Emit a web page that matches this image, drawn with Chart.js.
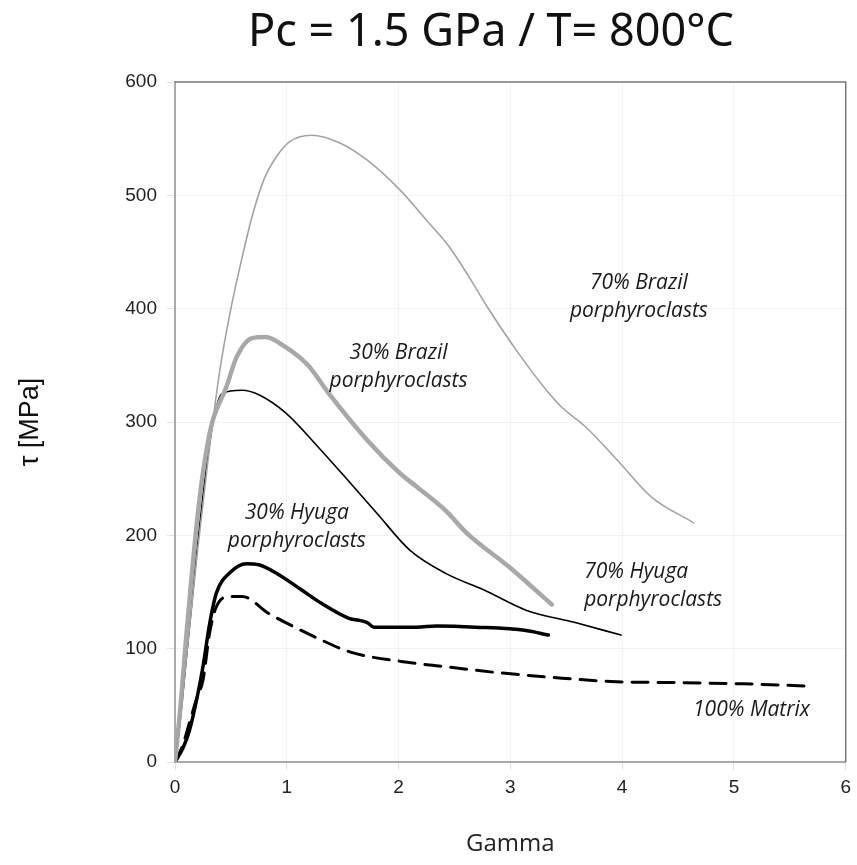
<!DOCTYPE html>
<html>
<head>
<meta charset="utf-8">
<script src="https://cdn.jsdelivr.net/npm/chart.js@4.4.1/dist/chart.umd.min.js"></script>
<style>
  html, body { margin: 0; padding: 0; background: #ffffff; }
  #wrap { width: 857px; height: 865px; }
</style>
</head>
<body>
<div id="wrap"><canvas id="chart" width="857" height="865"></canvas></div>
<script>
'use strict';

// ─── Datos (gamma, tau en MPa) ───────────────────────────────────────────────
const brazil70Gamma = [0, 0.1, 0.2, 0.3, 0.4, 0.5, 0.6, 0.7, 0.8, 0.9, 1.02, 1.22, 1.48, 1.72, 2.01, 2.25, 2.45, 2.63, 2.81, 3.07, 3.34, 3.46, 3.67, 3.96, 4.26, 4.64];
const brazil70Tau   = [0, 90, 185, 270, 345, 400, 445, 485, 515, 533, 547, 553, 546, 531, 505, 478, 455, 428, 399, 361, 326, 313, 296, 266, 234, 211];

const brazil30Gamma = [0, 0.05, 0.1, 0.15, 0.2, 0.25, 0.3, 0.34, 0.46, 0.55, 0.69, 0.81, 0.99, 1.19, 1.37, 1.72, 2.01, 2.16, 2.43, 2.61, 2.99, 3.37];
const brazil30Tau   = [0, 50, 110, 165, 215, 255, 285, 302, 331, 357, 374, 375, 366, 350, 326, 284, 255, 243, 221, 202, 172, 139];

const hyuga70Gamma = [0, 0.05, 0.1, 0.15, 0.2, 0.25, 0.3, 0.35, 0.42, 0.6, 0.75, 0.99, 1.28, 1.57, 1.81, 2.1, 2.43, 2.76, 3.14, 3.58, 3.99];
const hyuga70Tau   = [0, 40, 90, 140, 190, 235, 275, 305, 325, 328, 324, 308, 278, 246, 219, 187, 166, 152, 134, 123, 112];

const hyuga30Gamma = [0, 0.07, 0.13, 0.2, 0.25, 0.31, 0.37, 0.49, 0.64, 0.75, 0.9, 1.13, 1.31, 1.55, 1.72, 1.78, 2.16, 2.34, 2.69, 3.14, 3.34];
const hyuga30Tau   = [0, 12, 28, 58, 84, 122, 149, 167, 175, 174, 167, 152, 140, 127, 123, 119, 119, 120, 119, 116, 112];

const matrixGamma = [0, 0.07, 0.13, 0.2, 0.25, 0.31, 0.37, 0.49, 0.6, 0.84, 0.99, 1.28, 1.57, 2.16, 2.43, 2.87, 3.46, 3.9, 4.49, 5.08, 5.65];
const matrixTau   = [0, 15, 35, 58, 72, 114, 137, 146, 146, 131, 123, 109, 97, 87, 84, 79, 74, 71, 70, 69, 67];

// Ejes
const xTicks = [0, 1, 2, 3, 4, 5, 6];
const yTicks = [0, 100, 200, 300, 400, 500, 600];

// Etiquetas dentro del gráfico (texto y posición en unidades de datos)
const labelTexts = [
    ['70% Brazil', 'porphyroclasts'],
    ['30% Brazil', 'porphyroclasts'],
    ['30% Hyuga', 'porphyroclasts'],
    ['70% Hyuga', 'porphyroclasts'],
    ['100% Matrix'],
];
const labelGamma = [4.15, 2.0, 1.09, 3.66, 5.68];
const labelTau   = [423, 361, 220, 168, 46];
const labelAlign = ['center', 'center', 'center', 'left', 'right'];

const TITLE = 'Pc = 1.5 GPa / T= 800°C';

// ─── Utilidades ──────────────────────────────────────────────────────────────
const toPoints = (xs, ys) => xs.map((x, i) => ({ x, y: ys[i] }));

function serie(label, xs, ys, color, width, dash) {
    return {
        label,
        data: toPoints(xs, ys),
        showLine: true,
        borderColor: color,
        borderWidth: width,
        borderDash: dash || [],
        pointRadius: 0,
        cubicInterpolationMode: 'monotone',
        borderCapStyle: 'round',
        borderJoinStyle: 'round',
    };
}

// Título, borde superior/derecho y etiquetas de las curvas
const decorPlugin = {
    id: 'decor',
    afterDraw(chart) {
        const { ctx, chartArea, scales } = chart;
        ctx.save();

        // marco superior y derecho
        ctx.strokeStyle = '#777777';
        ctx.lineWidth = 1.5;
        ctx.beginPath();
        ctx.moveTo(chartArea.left, chartArea.top);
        ctx.lineTo(chartArea.right, chartArea.top);
        ctx.lineTo(chartArea.right, chartArea.bottom);
        ctx.stroke();

        // título
        ctx.fillStyle = '#111111';
        ctx.font = "45px 'Noto Sans'";
        ctx.textAlign = 'center';
        ctx.textBaseline = 'middle';
        ctx.fillText(TITLE, 491, 33);

        // etiquetas
        ctx.font = "italic 21px 'Open Sans'";
        ctx.fillStyle = '#1a1a1a';
        labelTexts.forEach((lines, i) => {
            const px = scales.x.getPixelForValue(labelGamma[i]);
            const py = scales.y.getPixelForValue(labelTau[i]);
            ctx.textAlign = labelAlign[i];
            lines.forEach((txt, j) => ctx.fillText(txt, px, py + j * 28));
        });
        ctx.restore();
    },
};

const gridCfg = {
    color: 'rgba(0,0,0,0.05)',
    lineWidth: 1,
    tickLength: 8,
    tickColor: 'rgba(0,0,0,0.12)',
};

new Chart(document.getElementById('chart'), {
    type: 'scatter',
    data: {
        datasets: [
            serie('70% Brazil', brazil70Gamma, brazil70Tau, '#a3a3a3', 1.6),
            serie('30% Brazil', brazil30Gamma, brazil30Tau, '#a8a8a8', 4.5),
            serie('70% Hyuga', hyuga70Gamma, hyuga70Tau, '#000000', 1.6),
            serie('30% Hyuga', hyuga30Gamma, hyuga30Tau, '#000000', 3.5),
            serie('100% Matrix', matrixGamma, matrixTau, '#000000', 3, [16, 10]),
        ],
    },
    options: {
        responsive: false,
        animation: false,
        layout: { padding: { top: 82, right: 3, left: 0, bottom: 0 } },
        plugins: {
            legend: { display: false },
            tooltip: { enabled: false },
        },
        scales: {
            x: {
                type: 'linear',
                min: 0,
                max: 6,
                afterBuildTicks: s => { s.ticks = xTicks.map(v => ({ value: v })); },
                afterFit: s => { s.height = 103; },
                ticks: {
                    color: '#222222',
                    font: { family: "'Liberation Sans'", size: 19 },
                    padding: 6,
                },
                grid: gridCfg,
                border: { color: '#aaaaaa', width: 2 },
                title: {
                    display: true,
                    text: 'Gamma',
                    color: '#222222',
                    font: { family: "'Open Sans'", size: 24 },
                    padding: { top: 0, bottom: 6 },
                },
            },
            y: {
                type: 'linear',
                min: 0,
                max: 600,
                afterBuildTicks: s => { s.ticks = yTicks.map(v => ({ value: v })); },
                afterFit: s => { s.width = 175; },
                ticks: {
                    color: '#222222',
                    font: { family: "'Liberation Sans'", size: 19 },
                    padding: 10,
                },
                grid: gridCfg,
                border: { color: '#aaaaaa', width: 2 },
                title: {
                    display: true,
                    text: 'τ [MPa]',
                    color: '#111111',
                    font: { family: "'Liberation Sans'", size: 27 },
                    padding: { top: 14, bottom: 0 },
                },
            },
        },
    },
    plugins: [decorPlugin],
});
</script>
</body>
</html>
